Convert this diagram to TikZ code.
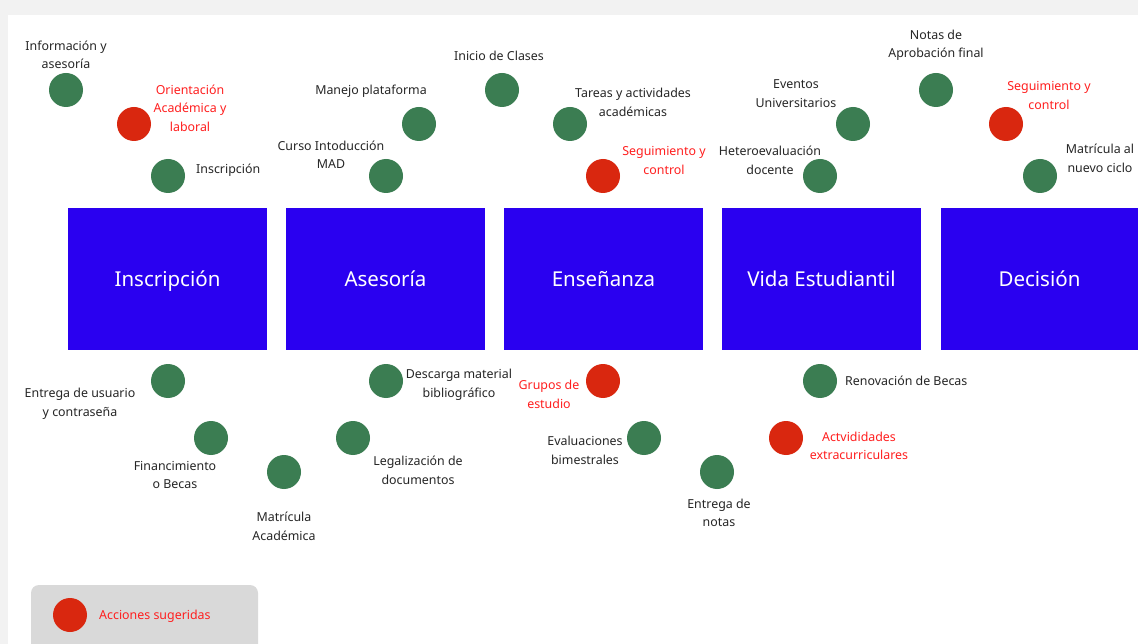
\documentclass[tikz,border=0pt]{standalone}
\usepackage{fontspec}
\setmainfont{Noto Sans}
\definecolor{dgreen}{HTML}{3B7D52}
\definecolor{dred}{HTML}{D9270F}
\definecolor{tred}{HTML}{FF1F1F}
\definecolor{tdark}{HTML}{262626}
\definecolor{sblue}{HTML}{2A00F0}
\definecolor{outerbg}{HTML}{F2F2F2}
\definecolor{legbg}{HTML}{D9D9D9}
\tikzset{
  dotg/.style={circle,fill=dgreen,minimum size=34pt,inner sep=0pt},
  dotr/.style={circle,fill=dred,minimum size=34pt,inner sep=0pt},
  lbl/.style={text=tdark,font=\fontsize{12.4}{18.5}\selectfont,align=center,inner sep=0pt},
  lblr/.style={lbl,text=tred},
  stage/.style={fill=sblue,minimum width=199pt,minimum height=142pt,inner sep=0pt,text=white,font=\fontsize{20.5}{22}\selectfont,text height=18pt,text depth=2pt}
}
\begin{document}
\begin{tikzpicture}[x=1pt,y=-1pt]
\useasboundingbox (0,0) rectangle (1138,644);
\fill[outerbg] (0,0) rectangle (1138,644);
\fill[white] (8,15) rectangle (1138,644);
% stages
\node[stage] (s1) at (167.5,279) {Inscripción};
\node[stage] (s2) at (385.5,279) {Asesoría};
\node[stage] (s3) at (603.5,279) {Enseñanza};
\node[stage] (s4) at (821.5,279) {Vida Estudiantil};
\node[stage,minimum width=198pt] (s5) at (1039.5,279) {Decisión};
% top dots
\node[dotg] (c1) at (66,90) {};
\node[lbl] (l1) at (66,55) {Información y\\asesoría};
\node[dotr] (c2) at (134,124) {};
\node[lblr] (l2) at (190,108) {Orientación\\Académica y\\laboral};
\node[dotg] (c3) at (168,176) {};
\node[lbl,anchor=west] (l3) at (196,170) {Inscripción};
\node[dotg] (c4) at (386,176) {};
\node[lbl] (l4) at (331,155) {Curso Intoducción\\MAD};
\node[dotg] (c5) at (419,124) {};
\node[lbl] (l5) at (371,91) {Manejo plataforma};
\node[dotg] (c6) at (502,90) {};
\node[lbl] (l6) at (499,56) {Inicio de Clases};
\node[dotg] (c7) at (570,124) {};
\node[lbl] (l7) at (633,102.5) {Tareas y actividades\\académicas};
\node[dotr] (c8) at (603,176) {};
\node[lblr] (l8) at (664,160.5) {Seguimiento y\\control};
\node[dotg] (c9) at (820,176) {};
\node[lbl] (l9) at (770,160.5) {Heteroevaluación\\docente};
\node[dotg] (c10) at (853,124) {};
\node[lbl] (l10) at (796,93.5) {Eventos\\Universitarios};
\node[dotg] (c11) at (936,90) {};
\node[lbl] (l11) at (936,45.5) {Notas de\\Aprobación final};
\node[dotr] (c12) at (1006,124) {};
\node[lblr] (l12) at (1049,95.5) {Seguimiento y\\control};
\node[dotg] (c13) at (1040,176) {};
\node[lbl] (l13) at (1100,158.5) {Matrícula al\\nuevo ciclo};
% bottom dots
\node[dotg] (b1) at (168,381) {};
\node[lbl] (m1) at (80,404) {Entrega de usuario\\y contraseña};
\node[dotg] (b2) at (211,438) {};
\node[lbl] (m2) at (175,475) {Financimiento\\o Becas};
\node[dotg] (b3) at (284,472) {};
\node[lbl] (m3) at (284,526.5) {Matrícula\\Académica};
\node[dotg] (b4) at (353,438) {};
\node[lbl] (m4) at (418,470.5) {Legalización de\\documentos};
\node[dotg] (b5) at (386,381) {};
\node[lbl] (m5) at (459,385) {Descarga material\\bibliográfico};
\node[dotr] (b6) at (603,381) {};
\node[lblr] (m6) at (549,394.5) {Grupos de\\estudio};
\node[dotg] (b7) at (644,438) {};
\node[lbl] (m7) at (585,450.5) {Evaluaciones\\bimestrales};
\node[dotg] (b8) at (717,472) {};
\node[lbl] (m8) at (719,513) {Entrega de\\notas};
\node[dotr] (b9) at (786,438) {};
\node[lblr] (m9) at (859,446) {Actvididades\\extracurriculares};
\node[dotg] (b10) at (820,381) {};
\node[lbl,anchor=west] (m10) at (845,381) {Renovación de Becas};
% legend
\fill[legbg,rounded corners=8pt] (31,585) rectangle (258,660);
\node[dotr] (lg) at (70,615) {};
\node[lblr,anchor=west] (lgt) at (99,616) {Acciones sugeridas};
\end{tikzpicture}
\end{document}
